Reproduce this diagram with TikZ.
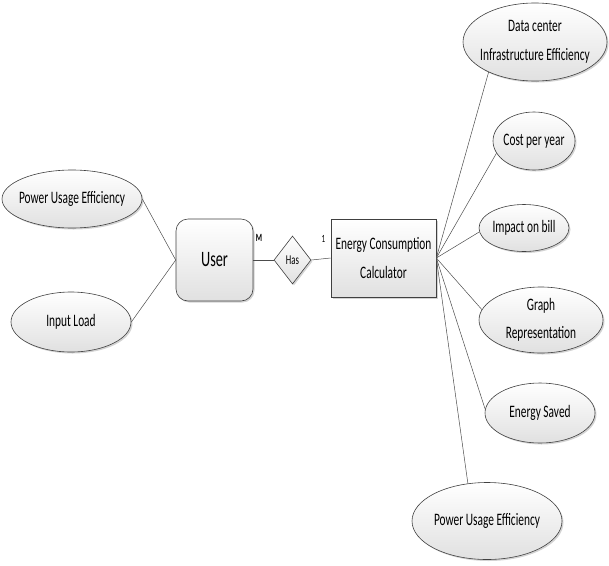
\documentclass[tikz,border=0pt]{standalone}
\usepackage{fontspec}
\setmainfont{Carlito}[FakeStretch=0.65]
\usetikzlibrary{shapes.geometric,shadows}
\tikzset{
  base/.style={draw=black!75, line width=0.6pt, top color=white, bottom color=black!12,
    drop shadow={shadow xshift=1.5pt, shadow yshift=-1.5pt, opacity=0.35}, inner sep=0pt,
    font=\fontsize{17.5}{28.5}\selectfont, align=center, text=black},
  attr/.style={base, ellipse, inner sep=-16pt},
  ent/.style={base, rectangle},
  link/.style={draw=black!70, line width=0.5pt},
}
\begin{document}
\begin{tikzpicture}[x=1pt,y=-1pt]
\useasboundingbox (0,0) rectangle (609,565);
% left attributes
\node[attr, minimum width=140, minimum height=58] (pue1) at (72,199) {Power Usage Efficiency};
\node[attr, minimum width=120, minimum height=60] (inl) at (71,322) {Input Load};
% entities
\node[ent, rounded corners=12pt, minimum width=77, minimum height=82, font=\fontsize{22}{24}\selectfont] (user) at (214.5,260) {User};
\node[base, diamond, minimum width=37, minimum height=48, aspect=0.77, font=\fontsize{13.5}{15}\selectfont] (has) at (292.5,260) {Has};
\node[ent, minimum width=105, minimum height=78] (ecc) at (383.5,258) {Energy Consumption\\Calculator};
\node[font=\fontsize{11}{12}\selectfont\bfseries] (m) at (259,238) {M};
\node[font=\fontsize{11}{12}\selectfont] (one) at (323.5,239) {1};
% right attributes
\node[attr, minimum width=144, minimum height=78] (dc) at (535,42) {Data center\\Infrastructure Efficiency};
\node[attr, minimum width=82, minimum height=58] (cost) at (534,141) {Cost per year};
\node[attr, minimum width=90, minimum height=47] (imp) at (524,228) {Impact on bill};
\node[attr, minimum width=124, minimum height=66] (graph) at (541,320) {Graph\\Representation};
\node[attr, minimum width=110, minimum height=60] (es) at (540,413) {Energy Saved};
\node[attr, minimum width=150, minimum height=77] (pue2) at (487,521) {Power Usage Efficiency};
% connectors
\draw[link] (pue1.east) -- (user.west);
\draw[link] (inl.east) -- (user.west);
\draw[link] (user.east) -- (has.west);
\draw[link] (has.east) -- (ecc.west);
\draw[link] (ecc.east) -- (dc.213);
\draw[link] (ecc.east) -- (cost.198);
\draw[link] (ecc.east) -- (imp.185);
\draw[link] (ecc.east) -- (graph.170);
\draw[link] (ecc.east) -- (es.176);
\draw[link] (ecc.east) -- (pue2.117);
\end{tikzpicture}
\end{document}
